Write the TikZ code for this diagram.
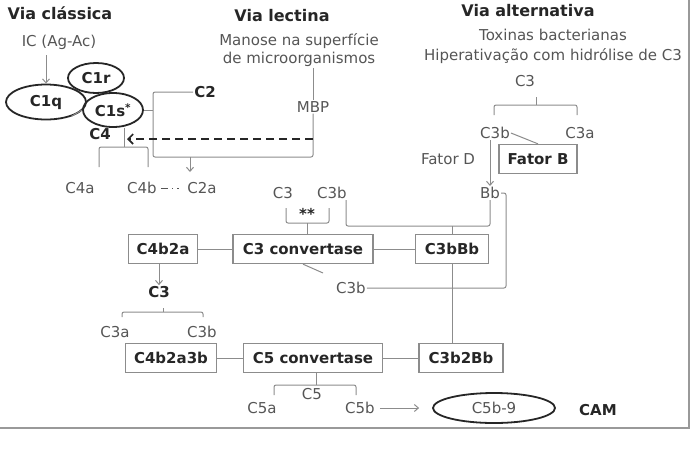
\documentclass[tikz,border=0pt]{standalone}
\usepackage{fontspec}
\setmainfont{DejaVu Sans}
\usetikzlibrary{arrows.meta,shapes}
\definecolor{txtgray}{HTML}{555555}
\definecolor{txtdark}{HTML}{262626}
\definecolor{linegray}{HTML}{8C8C8C}
\tikzstyle{lbl}=[text=txtgray,inner sep=1pt,font=\fontsize{15}{18}\selectfont]
\tikzstyle{blbl}=[lbl,text=txtdark,font=\fontsize{15}{18}\selectfont\bfseries]
\tikzstyle{title}=[text=txtdark,inner sep=1pt,font=\fontsize{16}{19}\selectfont\bfseries]
\tikzstyle{box}=[draw=linegray,line width=1.3pt,text=txtdark,minimum height=29pt,inner sep=0pt,font=\fontsize{15}{18}\selectfont\bfseries]
\tikzstyle{oval}=[ellipse,draw=txtdark,line width=1.8pt,inner sep=0pt,text=txtdark]
\tikzstyle{edge}=[draw=linegray,line width=1pt,rounded corners=2pt]
\tikzstyle{arr}=[draw=linegray,line width=1pt,-{Straight Barb[length=4pt,width=7pt]}]
\tikzstyle{dasharr}=[draw=txtdark,line width=1.6pt,dash pattern=on 8pt off 5pt,-{Straight Barb[length=5pt,width=10pt]}]

\begin{document}
\begin{tikzpicture}[x=1pt,y=-1pt]
    \useasboundingbox (0,0) rectangle (692,453);
    % outer frame (only right and bottom sides show)
    \draw[draw=gray!80,line width=1.6pt] (-10,-10) rectangle (689,428);

    % the three pathways
    \foreach \pos/\name/\txt in {{(60,13)/tcla/Via clássica}, {(282,16)/tlec/Via lectina}, {(528,11)/talt/Via alternativa}}
        \node[title] (\name) at \pos {\txt};

    % starting points
    \node[lbl,align=center,font=\fontsize{15}{18}\selectfont] (manose) at (299,50) {Manose na superfície\\de microorganismos};
    \node[lbl,align=center,font=\fontsize{15}{20}\selectfont] (toxinas) at (553,46) {Toxinas bacterianas\\Hiperativação com hidrólise de C3};

    % plain labels
    \foreach \pos/\name/\txt in {{(59,42)/IC/IC (Ag-Ac)}, {(313,107)/MBP/MBP}, {(80,188)/C4a/C4a}, {(142,188)/C4b/C4b},
        {(202,188)/C2a/C2a}, {(283,193)/C3t/C3}, {(332,193)/C3bt/C3b}, {(525,81)/C3r/C3}, {(495,133)/C3bR/C3b},
        {(580,133)/C3aR/C3a}, {(448,159)/FatorD/Fator D}, {(490,193)/Bb/Bb}, {(351,288)/C3bm/C3b},
        {(115,332)/C3aL/C3a}, {(202,332)/C3bL/C3b}, {(312,394)/C5/C5}, {(262,408)/C5a/C5a}, {(360,408)/C5b/C5b}}
        \node[lbl] (\name) at \pos {\txt};

    % bold labels
    \foreach \pos/\name/\txt in {{(205,92)/C2/C2}, {(100,134)/C4/C4}, {(159,292)/C3x/C3}, {(307,214)/stars/**}, {(598,410)/CAM/CAM}}
        \node[blbl] (\name) at \pos {\txt};

    % ellipses
    \foreach \pos/\name/\w/\h/\txt in {{(96,78)/C1r/56/30/C1r}, {(46,102)/C1q/80/35/C1q}, {(113,110)/C1s/60/34/C1s\textsuperscript{*}}}
        \node[oval,minimum width=\w pt,minimum height=\h pt,font=\fontsize{15}{18}\selectfont\bfseries] (\name) at \pos {\txt};
    \node[oval,minimum width=122pt,minimum height=30pt,text=txtgray,font=\fontsize{15}{18}\selectfont] (C5b9) at (494,408) {C5b-9};

    % boxes
    \foreach \pos/\name/\w/\txt in {{(163,249)/C4b2a/69/C4b2a}, {(303,249)/C3conv/140/C3 convertase}, {(452,249)/C3bBb/73/C3bBb},
        {(171,358)/C4b2a3b/91/C4b2a3b}, {(313,358)/C5conv/139/C5 convertase}, {(461,358)/C3b2Bb/84/C3b2Bb}, {(538,159)/FatorB/78/Fator B}}
        \node[box,minimum width=\w pt] (\name) at \pos {\txt};

    % free ends of the brackets
    \coordinate (c4top) at (124,147);
    \coordinate (c4l) at (99,167);
    \coordinate (c4r) at (148,167);
    \coordinate (dtip) at (127,139);
    \coordinate (c2bend) at (153,157);
    \coordinate (c2arr) at (190,172);
    \coordinate (c3k) at (536,105);
    \coordinate (c3l) at (494,115);
    \coordinate (c3r) at (577,115);
    \coordinate (sk) at (307,223);
    \coordinate (sl) at (286,208);
    \coordinate (sr) at (329,208);
    \coordinate (bk) at (452,226);
    \coordinate (bl) at (346,200);
    \coordinate (bbr) at (506,288);
    \coordinate (cvtick) at (323,273);
    \coordinate (xk) at (163,312);
    \coordinate (xl) at (122,317);
    \coordinate (xr) at (203,317);
    \coordinate (c5k) at (316,385);
    \coordinate (c5l) at (274,395);
    \coordinate (c5r) at (356,395);

    % classical pathway
    \draw[arr,shorten <=5pt] (IC.south -| C1q.north) -- (C1q.north);
    \path[edge] (C1q.-30) -- (C1s.west);
    \path[edge] (c4top |- C1s.south) -- (c4top);
    \path[edge] (c4l) |- (c4top) -| (c4r);
    \path[edge] (C1s.east) -- (C1s.east -| c2bend);
    \path[edge] (C2.west) -| (c2bend) -| (MBP.south);
    \draw[arr] (c2arr |- c2bend) -- (c2arr);
    \draw[draw=txtgray,line width=1pt,shorten <=3pt,shorten >=3pt,dash pattern=on 7pt off 4pt on 1.5pt off 4pt on 1.5pt off 20pt] (C4b.east) -- (C2a.west);

    % lectin pathway
    \path[edge] (MBP.north |- manose.south) -- (MBP.north);
    \draw[dasharr] (MBP.south |- dtip) -- (dtip);

    % alternative pathway
    \path[edge] (c3k) -- ++(0,-8);
    \path[edge] (c3l) |- (c3k) -| (c3r);
    \path[edge] (C3bR.east) -- (FatorB.north);
    \draw[arr] (C3bR.south -| Bb.north) -- (Bb.north);

    % C3 convertases
    \path[edge] (sl) |- (sk) -| (sr);
    \path[edge] (sk) -- (sk |- C3conv.north);
    \path[edge] (bl) |- (bk) -| (Bb.south);
    \path[edge] (bk) -- (bk |- C3bBb.north);
    \path[edge] (Bb.east) -| (bbr) -- (C3bm.east);
    \path[edge] (C3conv.south) -- (cvtick);
    \foreach \source/\dest in {C4b2a/C3conv, C3conv/C3bBb, C4b2a3b/C5conv, C5conv/C3b2Bb}
        \path[edge] (\source.east) -- (\dest.west);
    \path[edge] (C3bBb.south) -- (C3bBb.south |- C3b2Bb.north);
    \draw[arr] (C4b2a.south -| C3x.north) -- (C3x.north);
    \path[edge] (xk) -- ++(0,-4);
    \path[edge] (xl) |- (xk) -| (xr);

    % C5 convertases and MAC
    \path[edge] (c5k |- C5conv.south) -- (c5k);
    \path[edge] (c5l) |- (c5k) -| (c5r);
    \draw[arr,shorten <=4pt,shorten >=13pt] (C5b.east) -- (C5b9.west);
\end{tikzpicture}
\end{document}
